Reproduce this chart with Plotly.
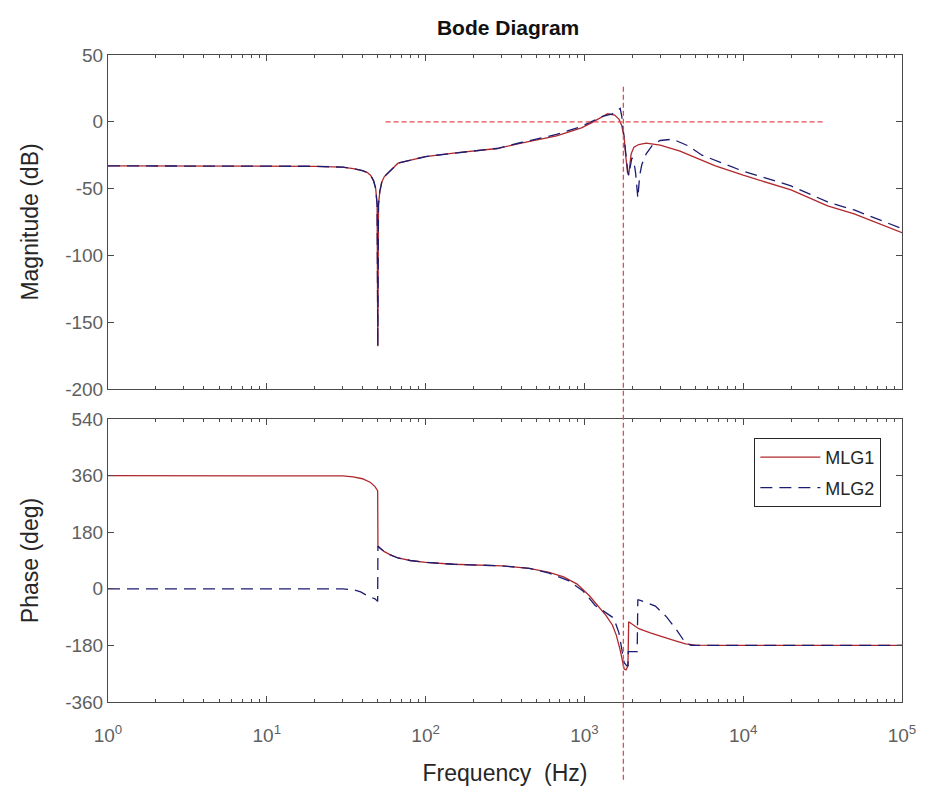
import plotly.graph_objects as go
from plotly.subplots import make_subplots

# ---------------- data ----------------
# Magnitude, MLG1 (red solid)
f_mag1 = [1, 5, 10, 20, 30, 35, 40, 43, 45, 47, 48.5, 49.5, 50, 50.5, 51.5, 53, 55, 58, 62, 67, 75, 89, 100,
          150, 200, 282, 400, 500, 668, 800, 958, 1100, 1250, 1400, 1550, 1650, 1720, 1780, 1830, 1870, 1900,
          1930, 1970, 2050, 2200, 2450, 3000, 4000, 5000, 6680, 10000, 13000, 20000, 34000, 50000, 100000]
mag1 = [-33, -33, -33, -33.3, -34, -35, -36.5, -38, -40, -44, -50, -62, -168, -62, -52, -45, -41, -38, -35, -31, -29.5,
        -27, -26, -23.5, -22, -20, -16, -13.5, -10.5, -7.5, -4.5, -1, 3, 6, 5, 2, -3, -12, -28, -38, -40,
        -32, -24, -19, -17, -16, -17.5, -22, -27, -33, -40, -44, -51, -63, -69, -83]

# Magnitude, MLG2 (blue dashed)
f_mag2 = [1, 5, 10, 20, 30, 35, 40, 43, 45, 47, 48.5, 49.5, 50, 50.5, 51.5, 53, 55, 58, 62, 67, 75, 89, 100,
          150, 200, 282, 400, 500, 668, 800, 958, 1100, 1300, 1500, 1600, 1680, 1720, 1760, 1820, 1870, 1900,
          1940, 1990, 2050, 2100, 2170, 2230, 2300, 2450, 2700, 3000, 3600, 4500, 5500, 7000, 10000, 13000,
          20000, 34000, 50000, 100000]
mag2 = [-33, -33, -33, -33.3, -34, -35, -36.5, -38, -40, -44, -50, -62, -168, -62, -52, -45, -41, -38, -35, -31, -29.5,
        -27, -26, -23.5, -22, -20, -15.5, -13, -9.5, -6.5, -3.5, 0, 4, 6, 8, 10, 4, -8, -25, -36, -40,
        -33, -27, -30, -38, -57, -40, -32, -24, -17, -14, -13, -18, -25, -30, -37, -41,
        -48, -60, -66, -80]

# Phase, MLG1 (red solid)
f_ph1 = [1, 10, 25, 30, 35, 40, 45, 48, 49.9, 50.1, 52, 55, 60, 67, 80, 100, 150, 200, 300, 450, 600, 740, 900,
         1075, 1200, 1370, 1500, 1590, 1680, 1740, 1780, 1830, 1880, 1900, 2000, 2200, 2600, 3100, 3700, 4340,
         5000, 7000, 10000, 100000]
ph1 = [360, 360, 360, 359, 356, 350, 338, 325, 312, 135, 128, 118, 108, 98, 90, 84, 78, 76, 73, 65, 52, 38, 15,
       -22, -50, -85, -115, -148, -195, -235, -255, -258, -245, -105, -112, -127, -140, -153, -165, -175,
       -179, -180, -180, -180]

# Phase, MLG2 (blue dashed)
f_ph2 = [1, 10, 30, 35, 39, 43, 46, 48, 49.9, 50.1, 52, 55, 60, 67, 80, 100, 150, 200, 300, 450, 600, 800, 980,
         1170, 1350, 1530, 1650, 1720, 1780, 1850, 1880, 1890, 2150, 2170, 2200, 2400, 2800, 3300, 3800, 4300,
         4700, 7000, 100000]
ph2 = [0, 0, 0, -3, -10, -22, -28, -32, -40, 135, 128, 118, 108, 98, 90, 84, 78, 76, 73, 65, 50, 25, -7,
       -53, -75, -93, -140, -190, -235, -245, -245, -200, -200, -35, -35, -42, -55, -90, -130, -170,
       -180, -180, -180]

# Reference lines
f_cross = 1760              # vertical red dashed marker (Hz)
zero_db_span = [56, 32000]  # horizontal 0 dB reference (Hz)
zero_db = 0

series_names = ["MLG1", "MLG2"]
x_tickvals = [1, 10, 100, 1000, 10000, 100000]
x_ticktext = ["10<sup>0</sup>", "10<sup>1</sup>", "10<sup>2</sup>", "10<sup>3</sup>", "10<sup>4</sup>", "10<sup>5</sup>"]
x_minor = [m * d for d in [1, 10, 100, 1000, 10000] for m in range(2, 10)]
mag_ticks = [-200, -150, -100, -50, 0, 50]
mag_ticktext = ["-200", "-150", "-100", "-50", "0", "50"]
ph_ticks = [-360, -180, 0, 180, 360, 540]
ph_ticktext = ["-360", "-180", "0", "180", "360", "540"]

# ---------------- figure ----------------
RED = "#b0282d"
BLUE = "#1c1c72"
REF = "#e5484d"
AX = "#4a4a4a"
TICKC = "#5f5f5f"
FONT = "Liberation Sans, Arial, sans-serif"

fig = make_subplots(rows=2, cols=1, shared_xaxes=False, vertical_spacing=0.0464)

fig.add_trace(go.Scatter(x=f_mag1, y=mag1, mode="lines", name=series_names[0], legendgroup="g1",
                         line=dict(color=RED, width=1.3), showlegend=False), row=1, col=1)
fig.add_trace(go.Scatter(x=f_mag2, y=mag2, mode="lines", name=series_names[1], legendgroup="g2",
                         line=dict(color=BLUE, width=1.3, dash="12px,7px"), showlegend=False), row=1, col=1)
fig.add_trace(go.Scatter(x=zero_db_span, y=[zero_db, zero_db], mode="lines", showlegend=False,
                         line=dict(color=REF, width=1.3, dash="5px,3px"), hoverinfo="skip"), row=1, col=1)
fig.add_trace(go.Scatter(x=f_ph1, y=ph1, mode="lines", name=series_names[0], legendgroup="g1",
                         line=dict(color=RED, width=1.3)), row=2, col=1)
fig.add_trace(go.Scatter(x=f_ph2, y=ph2, mode="lines", name=series_names[1], legendgroup="g2",
                         line=dict(color=BLUE, width=1.3, dash="12px,7px")), row=2, col=1)

# vertical red dashed marker spanning both panels
fig.add_shape(type="line", xref="x2", yref="paper", x0=f_cross, x1=f_cross, y0=-0.12, y1=0.955,
              line=dict(color=REF, width=1.3, dash="5px,3px"))

axis_common = dict(showline=True, linecolor=AX, linewidth=1, mirror="allticks", ticks="inside",
                   tickcolor=AX, ticklen=6, showgrid=False, zeroline=False,
                   tickfont=dict(family=FONT, size=19, color=TICKC))

xcommon = dict(type="log", range=[0, 5], tickmode="array", tickvals=x_tickvals, ticktext=x_ticktext,
               minor=dict(tickmode="array", tickvals=x_minor, ticks="inside", ticklen=3, tickcolor=AX,
                          showgrid=False), **axis_common)

TITLEFONT = dict(family=FONT, size=23, color="#262626")

fig.update_xaxes(showticklabels=False, **xcommon, row=1, col=1)
fig.update_xaxes(showticklabels=True, ticklabelstandoff=16, **xcommon, row=2, col=1,
                 title=dict(text="Frequency\u00a0 (Hz)", font=TITLEFONT, standoff=20))

fig.update_yaxes(range=[-200, 50], tickmode="array", tickvals=mag_ticks, ticktext=mag_ticktext,
                 **axis_common, row=1, col=1,
                 title=dict(text="Magnitude (dB)", font=TITLEFONT, standoff=20))
fig.update_yaxes(range=[-360, 540], tickmode="array", tickvals=ph_ticks, ticktext=ph_ticktext,
                 **axis_common, row=2, col=1,
                 title=dict(text="Phase (deg)", font=TITLEFONT, standoff=20))

fig.update_layout(
    width=928, height=801,
    margin=dict(l=108, r=18, t=55, b=99),
    paper_bgcolor="white", plot_bgcolor="white",
    title=dict(text="<b>Bode Diagram</b>", x=0.5475, xanchor="center", y=0.965, yanchor="middle",
               font=dict(family=FONT, size=21, color="#111111")),
    font=dict(family=FONT),
    legend=dict(x=0.974, xanchor="right", y=0.408, yanchor="top", bgcolor="white",
                bordercolor="#262626", borderwidth=1, font=dict(family=FONT, size=18, color="#262626"),
                itemwidth=60, tracegroupgap=4),
)
fig.layout.yaxis.domain = [0.4838, 1.0]
fig.layout.yaxis2.domain = [0.0, 0.4374]

fig.write_html("out.html")
